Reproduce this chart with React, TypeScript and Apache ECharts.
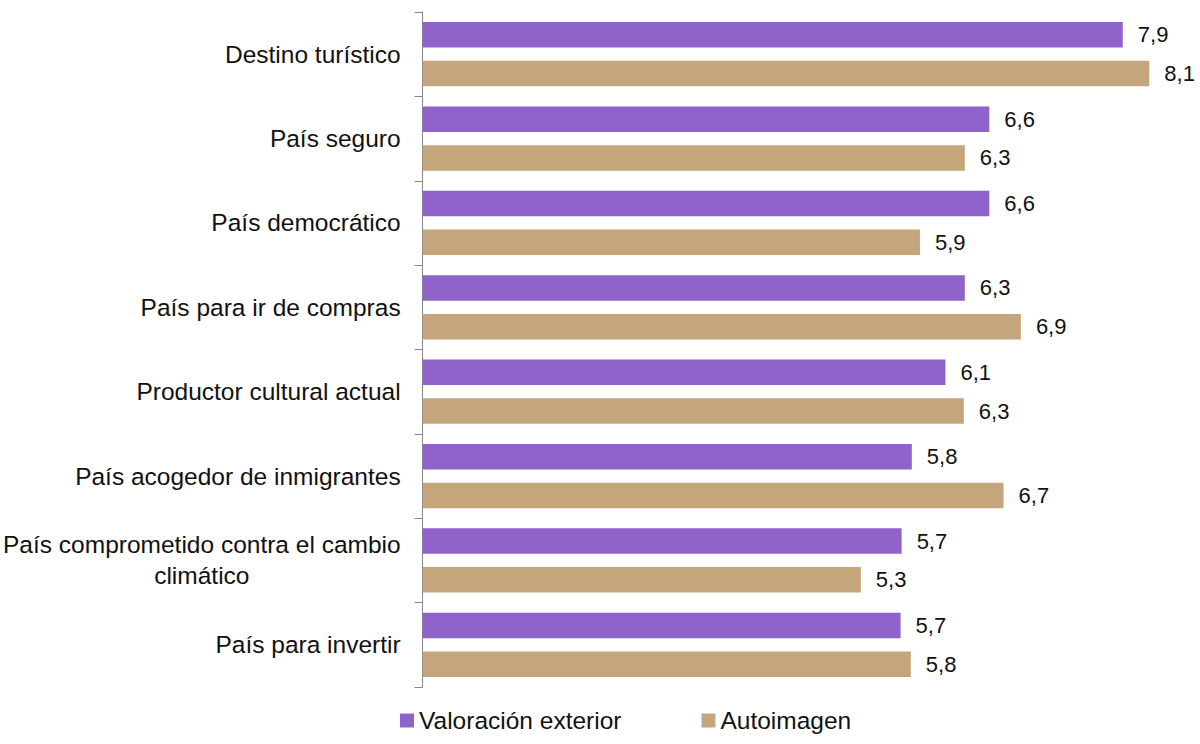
import React, { useEffect, useRef } from "react";
import * as echarts from "echarts";

const categories = [
  "Destino turístico",
  "País seguro",
  "País democrático",
  "País para ir de compras",
  "Productor cultural actual",
  "País acogedor de inmigrantes",
  "País comprometido contra el cambio\nclimático",
  "País para invertir",
];
const seriesNames = ["Valoración exterior", "Autoimagen"];
const valoracionExterior = [7.87, 6.56, 6.56, 6.32, 6.13, 5.8, 5.7, 5.69];
const autoimagen = [8.13, 6.32, 5.88, 6.87, 6.31, 6.7, 5.3, 5.79];

const FONT = "'Liberation Sans', Arial, sans-serif";

const fmt = (v: number) => (Math.round(v * 10) / 10).toFixed(1).replace(".", ",");

export default function App() {
  const ref = useRef<HTMLDivElement>(null);
  useEffect(() => {
    if (!ref.current) return;
    const chart = echarts.init(ref.current, null, { renderer: "svg" });
    const labelCfg = {
      show: true,
      position: "right" as const,
      distance: 15,
      fontSize: 22,
      color: "#111",
      fontFamily: FONT,
      formatter: (p: any) => fmt(p.value),
    };
    chart.setOption({
      animation: false,
      backgroundColor: "#ffffff",
      textStyle: { fontFamily: FONT },
      grid: { left: 422, top: 12, width: 765, height: 675 },
      xAxis: {
        type: "value",
        min: 1,
        max: 8.5,
        show: false,
        splitLine: { show: false },
      },
      yAxis: {
        type: "category",
        inverse: true,
        data: categories,
        axisLine: { show: true, lineStyle: { color: "#868686", width: 1 } },
        axisTick: { show: true, length: 8, lineStyle: { color: "#868686" } },
        axisLabel: {
          margin: 22,
          fontSize: 24.5,
          color: "#111",
          fontFamily: FONT,
          formatter: (v: string) =>
            v
              .split("\n")
              .map((l) => `{c|${l}}`)
              .join("\n"),
          rich: {
            c: { align: "center", fontSize: 24.5, lineHeight: 31, color: "#111", fontFamily: FONT },
          },
        },
      },
      legend: {
        left: 395,
        top: 703,
        icon: "rect",
        itemWidth: 14,
        itemHeight: 14,
        itemGap: 80,
        textStyle: { fontSize: 24.5, color: "#111", fontFamily: FONT },
        data: seriesNames,
      },
      series: [
        {
          name: seriesNames[0],
          type: "bar",
          data: valoracionExterior,
          barWidth: 25.5,
          barGap: "52%",
          itemStyle: { color: "#9063CB" },
          label: labelCfg,
        },
        {
          name: seriesNames[1],
          type: "bar",
          data: autoimagen,
          barWidth: 25.5,
          barGap: "52%",
          itemStyle: { color: "#C5A67C" },
          label: labelCfg,
        },
      ],
    });
    return () => chart.dispose();
  }, []);
  return (
    <div
      ref={ref}
      style={{ position: "fixed", left: 0, top: 0, width: 1200, height: 744, background: "#fff" }}
    />
  );
}
